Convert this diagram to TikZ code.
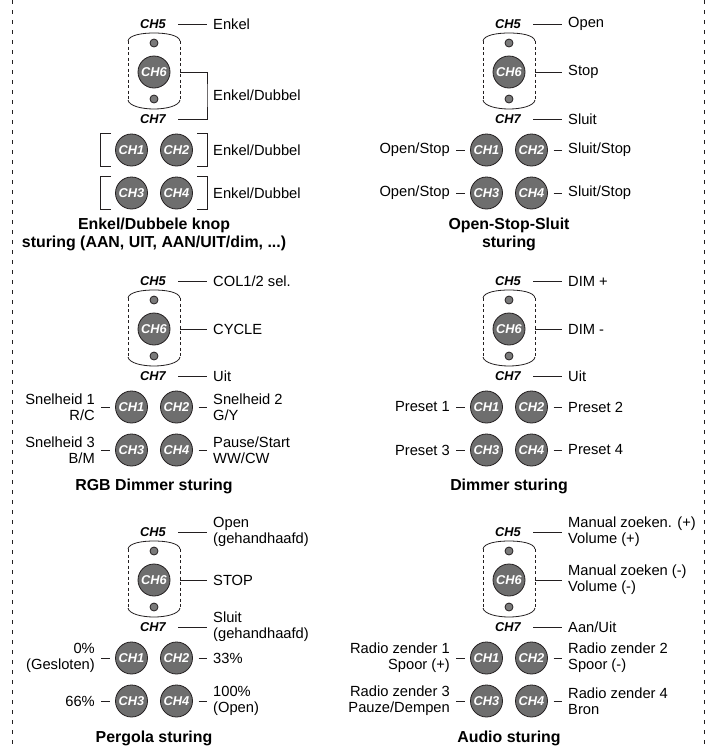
\documentclass[tikz,border=0pt]{standalone}
\usepackage{fontspec}
\setmainfont{Liberation Sans}
\usetikzlibrary{positioning}
\definecolor{KeyGray}{HTML}{6E6E6E}
\definecolor{DotGray}{HTML}{7A7A7A}
\definecolor{LineBlack}{HTML}{231F20}

\newcommand{\remotebody}[1]{%
  \draw[shell] (-26,-31) .. controls (-25,-37) and (-12,-39) .. (0,-39) .. controls (12,-39) and (25,-37) .. (26,-31);
  \draw[shell] (-26,28) .. controls (-25,34) and (-12,37) .. (0,37) .. controls (12,37) and (25,34) .. (26,28);
  \draw[shell,dash pattern=on 3pt off 2.5pt] (-26,-31) -- (-26,28);
  \draw[shell,dash pattern=on 3pt off 2.5pt] (26,-31) -- (26,28);
  \node[chdot] (#1d5) at (0,-29) {};
  \node[chdot] (#1d7) at (0,27) {};
  \node[chkey] (#1k6) at (0,0) {CH6};
  \node[chkey] (#1k1) at (-22.5,78) {CH1};
  \node[chkey] (#1k2) at (22.5,78) {CH2};
  \node[chkey] (#1k3) at (-22.5,121) {CH3};
  \node[chkey] (#1k4) at (22.5,121) {CH4};
  \node[chlab] (#1l5) at (-1,-48) {CH5};
  \node[chlab] (#1l7) at (-1,47) {CH7};
  \coordinate (#1e6) at (26,0);
}

\begin{document}
\begin{tikzpicture}[
  x=1pt,y=-1pt,
  shell/.style={draw=LineBlack,line width=0.8pt},
  chdot/.style={circle,draw=LineBlack,fill=DotGray,minimum size=8pt,inner sep=0pt,line width=0.8pt},
  chkey/.style={circle,draw=LineBlack,fill=KeyGray,minimum size=32pt,inner sep=0pt,outer sep=6pt,line width=0.8pt,text=white,font=\fontsize{12.8}{12.8}\selectfont\bfseries\itshape},
  chlab/.style={minimum width=50pt,inner sep=0pt,font=\fontsize{12.8}{12.8}\selectfont\bfseries\itshape},
  txtr/.style={anchor=west,inner xsep=6pt,inner ysep=0pt,align=left,font=\fontsize{14.7}{16.3}\selectfont},
  txtl/.style={anchor=east,inner xsep=6pt,inner ysep=0pt,align=right,font=\fontsize{14.7}{16.3}\selectfont},
  lead/.style={draw=LineBlack,line width=0.9pt},
  ttl/.style={align=center,inner sep=0pt,font=\fontsize{15.9}{18}\selectfont\bfseries},
  sideline/.style={draw=LineBlack,line width=1pt,dash pattern=on 4pt off 6pt}]
\useasboundingbox (0,0) rectangle (713,748);
\draw[sideline] (12,0) -- (12,748);
\draw[sideline] (704,0) -- (704,748);

\begin{scope}[shift={(154,72)}]
\remotebody{p1}
\node[txtr] (p1t5) at (53,-48) {Enkel};
\node[txtr] (p1t6) at (53,23) {Enkel/Dubbel};
\node[txtr] (p1t2) at (53,78) {Enkel/Dubbel};
\node[txtr] (p1t4) at (53,121) {Enkel/Dubbel};
\node[ttl] (p1ttl) at (0,162) {Enkel/Dubbele knop\\sturing (AAN, UIT, AAN/UIT/dim, ...)};
\draw[lead] (p1l5) -- (p1t5);
\draw[lead] (p1e6) -| (p1t6.west) |- (p1l7);
\draw[lead] (-43,61.5) -- (-54,61.5) -- (-54,94.5) -- (-43,94.5);
\draw[lead] (43,61.5) -- (53,61.5) -- (53,94.5) -- (43,94.5);
\draw[lead] (-43,104.5) -- (-54,104.5) -- (-54,137.5) -- (-43,137.5);
\draw[lead] (43,104.5) -- (53,104.5) -- (53,137.5) -- (43,137.5);
\end{scope}

\begin{scope}[shift={(509,72)}]
\remotebody{p2}
\node[txtr] (p2t5) at (53,-48) {Open};
\node[txtr] (p2t6) at (53,0) {Stop};
\node[txtr] (p2t7) at (53,47) {Sluit};
\node[txtl] (p2t1) at (-53,78) {Open/Stop};
\node[txtr] (p2t2) at (53,78) {Sluit/Stop};
\node[txtl] (p2t3) at (-53,121) {Open/Stop};
\node[txtr] (p2t4) at (53,121) {Sluit/Stop};
\node[ttl] (p2ttl) at (0,162) {Open-Stop-Sluit\\sturing};
\draw[lead] (p2l5) -- (p2t5);
\draw[lead] (p2e6) -- (p2t6);
\draw[lead] (p2l7) -- (p2t7);
\draw[lead] (p2t1) -- (p2k1);
\draw[lead] (p2k2) -- (p2t2);
\draw[lead] (p2t3) -- (p2k3);
\draw[lead] (p2k4) -- (p2t4);
\end{scope}

\begin{scope}[shift={(154,329)}]
\remotebody{p3}
\node[txtr] (p3t5) at (53,-48) {COL1/2 sel.};
\node[txtr] (p3t6) at (53,0) {CYCLE};
\node[txtr] (p3t7) at (53,47) {Uit};
\node[txtl] (p3t1) at (-53,78) {Snelheid 1\\R/C};
\node[txtr] (p3t2) at (53,78) {Snelheid 2\\G/Y};
\node[txtl] (p3t3) at (-53,121) {Snelheid 3\\B/M};
\node[txtr] (p3t4) at (53,121) {Pause/Start\\WW/CW};
\node[ttl] (p3ttl) at (0,157) {RGB Dimmer sturing};
\draw[lead] (p3l5) -- (p3t5);
\draw[lead] (p3e6) -- (p3t6);
\draw[lead] (p3l7) -- (p3t7);
\draw[lead] (p3t1) -- (p3k1);
\draw[lead] (p3k2) -- (p3t2);
\draw[lead] (p3t3) -- (p3k3);
\draw[lead] (p3k4) -- (p3t4);
\end{scope}

\begin{scope}[shift={(509,329)}]
\remotebody{p4}
\node[txtr] (p4t5) at (53,-48) {DIM +};
\node[txtr] (p4t6) at (53,0) {DIM -};
\node[txtr] (p4t7) at (53,47) {Uit};
\node[txtl] (p4t1) at (-53,78) {Preset 1};
\node[txtr] (p4t2) at (53,78) {Preset 2};
\node[txtl] (p4t3) at (-53,121) {Preset 3};
\node[txtr] (p4t4) at (53,121) {Preset 4};
\node[ttl] (p4ttl) at (0,157) {Dimmer sturing};
\draw[lead] (p4l5) -- (p4t5);
\draw[lead] (p4e6) -- (p4t6);
\draw[lead] (p4l7) -- (p4t7);
\draw[lead] (p4t1) -- (p4k1);
\draw[lead] (p4k2) -- (p4t2);
\draw[lead] (p4t3) -- (p4k3);
\draw[lead] (p4k4) -- (p4t4);
\end{scope}

\begin{scope}[shift={(154,580)}]
\remotebody{p5}
\node[txtr] (p5t5) at (53,-48) {Open\\(gehandhaafd)};
\node[txtr] (p5t6) at (53,0) {STOP};
\node[txtr] (p5t7) at (53,47) {Sluit\\(gehandhaafd)};
\node[txtl] (p5t1) at (-53,78) {0\%\\(Gesloten)};
\node[txtr] (p5t2) at (53,78) {33\%};
\node[txtl] (p5t3) at (-53,121) {66\%};
\node[txtr] (p5t4) at (53,121) {100\%\\(Open)};
\node[ttl] (p5ttl) at (0,158) {Pergola sturing};
\draw[lead] (p5l5) -- (p5t5);
\draw[lead] (p5e6) -- (p5t6);
\draw[lead] (p5l7) -- (p5t7);
\draw[lead] (p5t1) -- (p5k1);
\draw[lead] (p5k2) -- (p5t2);
\draw[lead] (p5t3) -- (p5k3);
\draw[lead] (p5k4) -- (p5t4);
\end{scope}

\begin{scope}[shift={(509,580)}]
\remotebody{p6}
\node[txtr] (p6t5) at (53,-48) {Manual zoeken. (+)\\Volume (+)};
\node[txtr] (p6t6) at (53,0) {Manual zoeken (-)\\Volume (-)};
\node[txtr] (p6t7) at (53,47) {Aan/Uit};
\node[txtl] (p6t1) at (-53,78) {Radio zender 1\\Spoor (+)};
\node[txtr] (p6t2) at (53,78) {Radio zender 2\\Spoor (-)};
\node[txtl] (p6t3) at (-53,121) {Radio zender 3\\Pauze/Dempen};
\node[txtr] (p6t4) at (53,121) {Radio zender 4\\Bron};
\node[ttl] (p6ttl) at (0,158) {Audio sturing};
\draw[lead] (p6l5) -- (p6t5);
\draw[lead] (p6e6) -- (p6t6);
\draw[lead] (p6l7) -- (p6t7);
\draw[lead] (p6t1) -- (p6k1);
\draw[lead] (p6k2) -- (p6t2);
\draw[lead] (p6t3) -- (p6k3);
\draw[lead] (p6k4) -- (p6t4);
\end{scope}
\end{tikzpicture}
\end{document}
